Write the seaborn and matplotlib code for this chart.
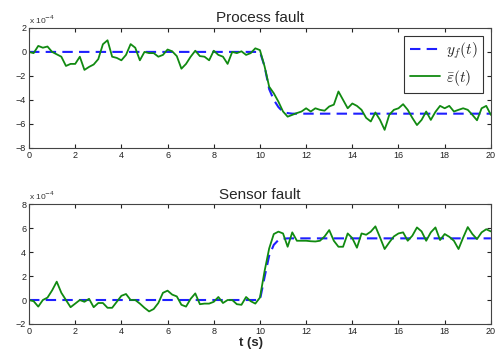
import numpy as np
import pandas as pd
import matplotlib
matplotlib.use("Agg")
import matplotlib.pyplot as plt
import seaborn as sns

# values are in units of 1e-4
t = np.round(np.arange(101) * 0.2, 1)

# process fault
yf_proc = [0.0] * 51 + [-1.2, -3.1, -4.0, -4.6, -5.0, -5.1] + [-5.15] * 44
eps_proc = [
    0.0, -0.1, 0.5, 0.35, 0.45, 0.0, -0.2, -0.4, -1.17, -1.0,
    -1.0, -0.4, -1.5, -1.25, -1.05, -0.6, 0.64, 0.97, -0.4, -0.5,
    -0.7, -0.25, 0.65, 0.35, -0.7, 0.0, -0.1, -0.1, -0.4, -0.25,
    0.2, 0.05, -0.35, -1.4, -1.0, -0.4, 0.1, -0.35, -0.4, -0.7,
    0.1, -0.25, -0.4, -1.0, 0.0, -0.1, 0.05, -0.25, -0.1, 0.3,
    0.15, -1.2, -2.9, -3.45, -4.15, -4.97, -5.4, -5.25, -5.1, -4.97,
    -4.7, -4.97, -4.7, -4.83, -4.9, -4.55, -4.4, -3.3, -4.0, -4.7,
    -4.3, -4.5, -4.83, -5.5, -5.8, -5.05, -5.67, -6.5, -5.25, -4.83,
    -4.7, -4.36, -4.83, -5.5, -6.1, -5.67, -4.97, -5.67, -5.0, -4.5,
    -4.7, -4.5, -4.97, -4.83, -4.7, -4.83, -5.25, -5.7, -4.7, -4.5,
    -5.25,
]

# sensor fault
yf_sens = [0.0] * 51 + [1.9, 3.7, 4.6, 5.0, 5.1] + [5.14] * 45
eps_sens = [
    0.0, -0.1, -0.55, 0.0, 0.2, 0.8, 1.53, 0.6, 0.0, -0.6,
    -0.3, 0.0, -0.15, 0.1, -0.6, -0.25, -0.25, -0.65, -0.65, -0.15,
    0.35, 0.5, 0.0, 0.0, -0.3, -0.65, -0.95, -0.75, -0.25, 0.6,
    0.78, 0.45, 0.3, -0.4, -0.55, 0.1, 0.55, -0.35, -0.3, -0.3,
    -0.15, 0.25, -0.25, 0.0, 0.0, -0.35, -0.4, 0.25, -0.1, -0.3,
    0.2, 2.4, 4.3, 5.5, 5.7, 5.55, 4.44, 5.64, 4.94, 4.94,
    4.94, 4.9, 4.88, 4.94, 5.3, 5.83, 4.94, 4.44, 4.44, 5.55,
    5.16, 4.36, 5.55, 5.44, 5.7, 6.14, 5.22, 4.25, 4.8, 5.3,
    5.55, 5.64, 4.94, 5.36, 6.05, 5.72, 4.94, 5.64, 6.05, 5.0,
    5.5, 5.27, 4.94, 4.25, 5.2, 6.08, 5.5, 5.08, 5.64, 5.9,
    5.72,
]

titles = ["Process fault", "Sensor fault"]
ylims = [(-8, 2), (-2, 8)]
yticks = [np.arange(-8, 3, 2), np.arange(-2, 9, 2)]

sns.set_style("ticks")
plt.rcParams["font.family"] = ["Liberation Sans", "DejaVu Sans"]
plt.rcParams["mathtext.fontset"] = "cm"

fig = plt.figure(figsize=(5.02, 3.58), dpi=100)
ax1 = fig.add_axes([0.0578, 0.587, 0.920, 0.335])
ax2 = fig.add_axes([0.0578, 0.095, 0.920, 0.335])

blue = "#1f1fff"
green = "#118a11"

for ax, yf, eps, title, yl, yt in zip(
    [ax1, ax2], [yf_proc, yf_sens], [eps_proc, eps_sens], titles, ylims, yticks
):
    df = pd.DataFrame({"t": t, "yf": yf, "eps": eps})
    sns.lineplot(data=df, x="t", y="yf", ax=ax, color=blue, lw=1.5,
                 linestyle=(0, (5, 3)), label=r"$y_f(t)$")
    sns.lineplot(data=df, x="t", y="eps", ax=ax, color=green, lw=1.3,
                 label=r"$\bar{\varepsilon}(t)$")
    ax.set_xlim(0, 20)
    ax.set_ylim(*yl)
    ax.set_xticks(np.arange(0, 21, 2))
    ax.set_yticks(yt)
    ax.tick_params(direction="in", top=True, right=True, length=3,
                   labelsize=6.5, colors="#222222", pad=2)
    for sp in ax.spines.values():
        sp.set_visible(True)
        sp.set_color("#444444")
        sp.set_linewidth(0.8)
    ax.set_xlabel("")
    ax.set_ylabel("")
    ax.set_title(title, fontsize=11, pad=4)
    ax.text(0.0, 1.02, r"x 10$^{-4}$", transform=ax.transAxes,
            fontsize=6, color="#333333", ha="left", va="bottom",
            math_fontfamily="dejavusans")

leg = ax1.legend(loc="upper right", fontsize=11, frameon=True, fancybox=False,
                 edgecolor="black", handlelength=2.0, borderpad=0.35,
                 labelspacing=0.4, handletextpad=0.4)
leg.get_frame().set_linewidth(0.8)
ax2.get_legend().remove()

fig.text(0.5, 0.025, "t (s)", ha="center", va="bottom", fontsize=9.5,
         fontweight="bold")

fig.savefig("out.png", dpi=100)
